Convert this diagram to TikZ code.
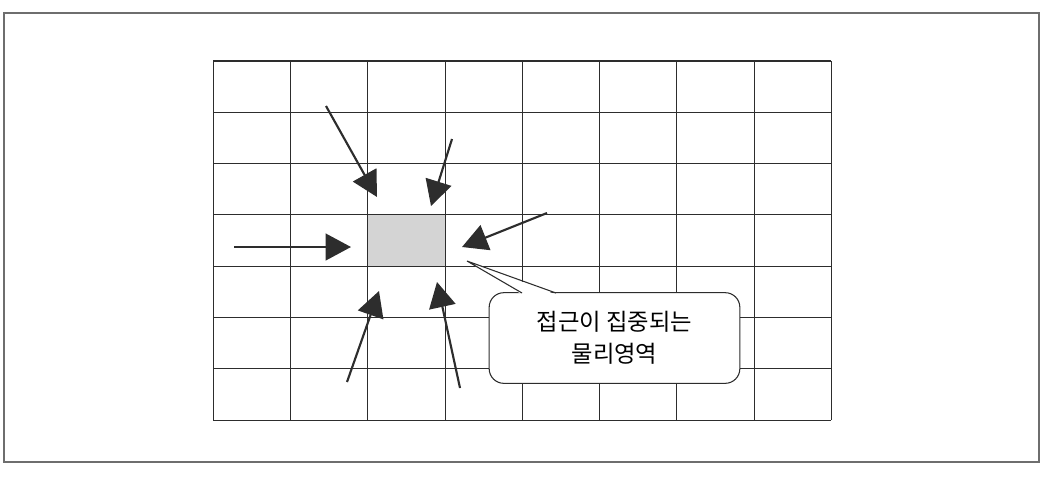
\documentclass[tikz,border=0pt]{standalone}
\usepackage{fontspec}
\usepackage{tikz}
\usetikzlibrary{arrows.meta,positioning,calc}
\newfontfamily\kr{Noto Sans CJK KR}
\definecolor{inkgray}{RGB}{45, 45, 45}
\definecolor{framegray}{RGB}{110, 110, 110}
\definecolor{hotgray}{RGB}{212, 212, 212}

\begin{document}
\begin{tikzpicture}[x=0.75pt, y=-0.75pt, >={Triangle[length=19pt, width=20pt]}]
    \useasboundingbox (0,0) rectangle (1048,480);
    \tikzset{
        gridline/.style={draw=inkgray, line width=0.8pt},
        pusharrow/.style={->, draw=inkgray, fill=inkgray, line width=1.6pt},
        areabox/.style={draw=inkgray, fill=white, line width=0.8pt, rounded corners=11pt,
            minimum width=188pt, minimum height=68pt, align=center, font=\kr\fontsize{17.5}{24}\selectfont}
    }
    % outer frame
    \draw[framegray, line width=0.8pt] (4,13) rectangle (1039,462);

    % hot cell and grid
    \fill[hotgray] (367.5,214.9) rectangle (444.75,266.2);
    \foreach \i in {0,...,8}
        \draw[gridline] ({213.3+77.25*\i},61) -- ({213.3+77.25*\i},420);
    \foreach \j in {0,...,7}
        \draw[gridline] (213.3,{61+51.3*\j}) -- (831.3,{61+51.3*\j});

    % arrow ends
    \coordinate (t1) at (326,106);  \coordinate (h1) at (377,197);
    \coordinate (t2) at (452,139);  \coordinate (h2) at (431,206);
    \coordinate (t3) at (234,247);  \coordinate (h3) at (351,247);
    \coordinate (t4) at (547,213);  \coordinate (h4) at (462,247);
    \coordinate (t5) at (347,382);  \coordinate (h5) at (379,291);
    \coordinate (t6) at (460,388);  \coordinate (h6) at (437,282);

    \draw[pusharrow] (t1) -- (h1);
    \draw[pusharrow] (t2) -- (h2);
    \draw[pusharrow] (t3) -- (h3);
    \draw[pusharrow] (t4) -- (h4);
    \draw[pusharrow] (t5) -- (h5);
    \draw[pusharrow] (t6) -- (h6);

    % callout
    \node[areabox] (area) at (614.5,338) {접근이 집중되는\\물리영역};
    \coordinate (ptip) at (467,261);
    \coordinate (pl) at (522,{338-45});
    \coordinate (pr) at (556,{338-45});
    \fill[white] ($(pl)+(0,1.5)$) -- (ptip) -- ($(pr)+(0,1.5)$) -- cycle;
    \draw[inkgray, line width=0.8pt, line join=miter] (pl) -- (ptip) -- (pr);
\end{tikzpicture}
\end{document}
